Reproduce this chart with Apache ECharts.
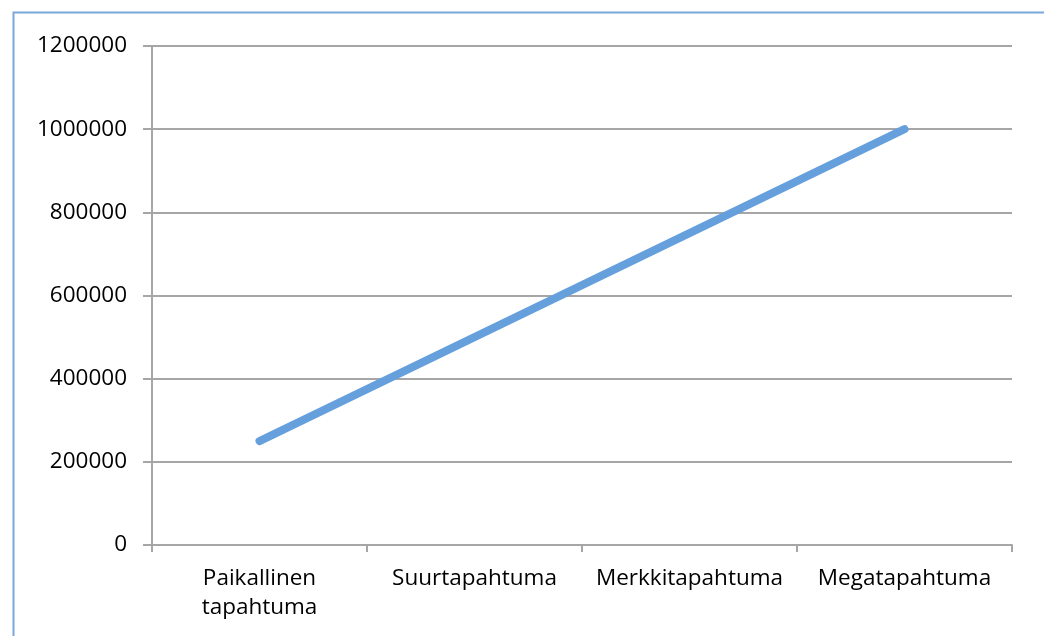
<!DOCTYPE html>
<html>
<head>
<meta charset="utf-8">
<script src="https://cdn.jsdelivr.net/npm/echarts@6/dist/echarts.min.js"></script>
<style>
  html, body { margin: 0; padding: 0; background: #fff; }
  #chart { width: 1044px; height: 636px; }
</style>
</head>
<body>
<div id="chart"></div>
<script>
  const categories = ['Paikallinen\ntapahtuma', 'Suurtapahtuma', 'Merkkitapahtuma', 'Megatapahtuma']
  const values = [250000, 500000, 750000, 1000000]

  const myChart = echarts.init(document.getElementById('chart'))
  const font = '"Open Sans", "Noto Sans", sans-serif'
  const grey = '#a6a6a6'

  myChart.setOption({
    animation: false,
    // frame of the chart area (only top and left edge are visible)
    graphic: [{
      type: 'rect',
      shape: { x: 13.5, y: 12.5, width: 1200, height: 800 },
      style: { fill: 'none', stroke: '#7aa7dc', lineWidth: 2 },
      silent: true
    }],
    grid: { left: 152, right: 32, top: 46, bottom: 91 },
    xAxis: {
      type: 'category',
      data: categories,
      boundaryGap: true,
      axisLine: { lineStyle: { color: grey, width: 2 } },
      axisTick: { show: true, length: 7, lineStyle: { color: grey, width: 2 } },
      axisLabel: { color: '#000', fontFamily: font, fontSize: 22.5, margin: 19, lineHeight: 29, interval: 0 }
    },
    yAxis: {
      type: 'value',
      min: 0,
      max: 1200000,
      interval: 200000,
      axisLine: { show: true, lineStyle: { color: grey, width: 2 } },
      axisTick: { show: true, length: 9, lineStyle: { color: grey, width: 2 } },
      splitLine: { lineStyle: { color: grey, width: 2 } },
      axisLabel: { color: '#000', fontFamily: font, fontSize: 22.5, margin: 25, formatter: v => String(v) }
    },
    series: [{
      type: 'line',
      data: values,
      showSymbol: false,
      lineStyle: { color: '#659fdc', width: 8, cap: 'round' }
    }]
  })
</script>
</body>
</html>
